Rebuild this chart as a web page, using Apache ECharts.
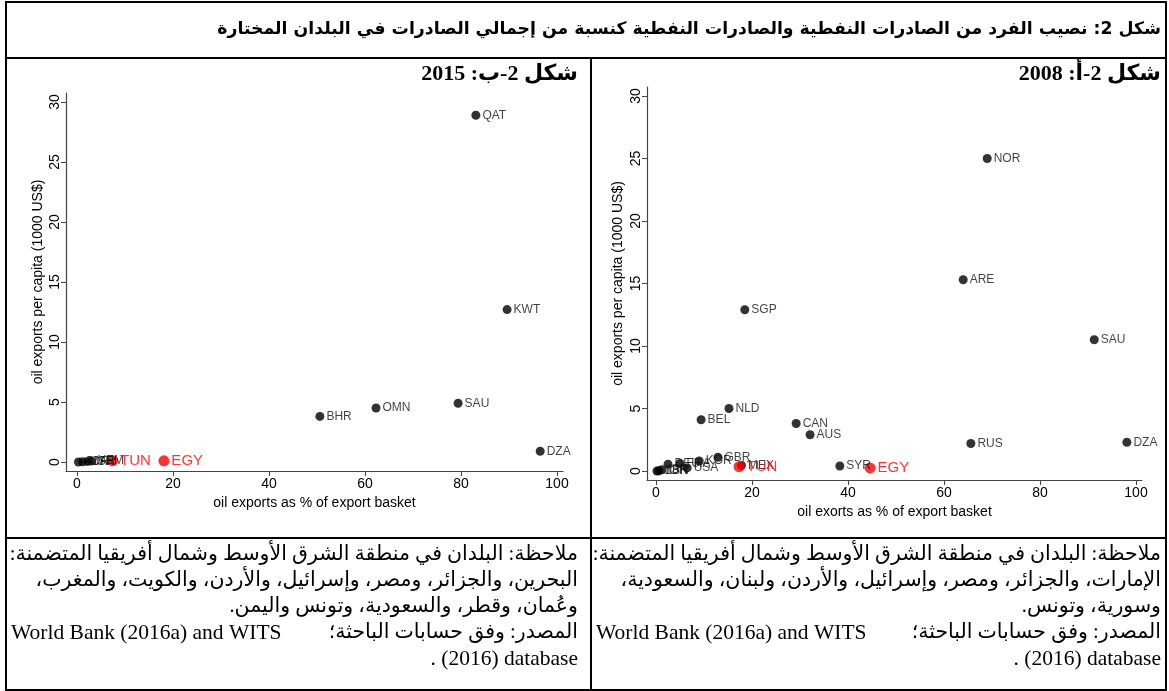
<!DOCTYPE html>
<html>
<head>
<meta charset="utf-8">
<script src="https://cdn.jsdelivr.net/npm/echarts@6/dist/echarts.min.js"></script>
<style>
  html, body { margin: 0; padding: 0; background: #fff; }
  #chart { width: 1169px; height: 691px; }
</style>
</head>
<body>
<div id="chart"></div>
<script>
// 2015 panel (left)
const names2015 = ['QAT', 'KWT', 'SAU', 'OMN', 'BHR', 'DZA', 'JOR', 'MAR', 'ISR', 'YEM'];
const share2015 = [83.1, 89.6, 79.4, 62.3, 50.6, 96.5, 0.3, 1.2, 2.2, 3.0];
const perCap2015 = [28.9, 12.7, 4.9, 4.5, 3.8, 0.9, 0.0, 0.02, 0.05, 0.08];
const focusNames2015 = ['TUN', 'EGY'];
const focusShare2015 = [7.4, 18.1];
const focusPerCap2015 = [0.1, 0.1];

// 2008 panel (right)
const names2008 = ['NOR', 'ARE', 'SGP', 'SAU', 'NLD', 'BEL', 'CAN', 'AUS', 'RUS', 'DZA', 'SYR',
  'MEX', 'GBR', 'KOR', 'USA', 'FRA', 'DEU', 'ISR', 'LBN', 'JOR'];
const share2008 = [69.0, 64.0, 18.5, 91.3, 15.2, 9.4, 29.2, 32.1, 65.6, 98.1, 38.3,
  17.8, 12.9, 9.0, 6.5, 5.0, 2.5, 1.2, 0.6, 0.2];
const perCap2008 = [25.0, 15.3, 12.9, 10.5, 5.0, 4.1, 3.8, 2.9, 2.2, 2.3, 0.4,
  0.45, 1.1, 0.8, 0.25, 0.6, 0.55, 0.1, 0.02, 0.0];
const focusNames2008 = ['TUN', 'EGY'];
const focusShare2008 = [17.3, 44.6];
const focusPerCap2008 = [0.35, 0.25];

const xTicks = [0, 20, 40, 60, 80, 100];
const yTicks = [0, 5, 10, 15, 20, 25, 30];

const titleText = 'شكل 2: نصيب الفرد من الصادرات النفطية والصادرات النفطية كنسبة من إجمالي الصادرات في البلدان المختارة';
const sub2008 = 'شكل 2-أ: 2008';
const sub2015 = 'شكل 2-ب: 2015';
const notes2008 = [
  'ملاحظة: البلدان في منطقة الشرق الأوسط وشمال أفريقيا المتضمنة:',
  'الإمارات، والجزائر، ومصر، وإسرائيل، والأردن، ولبنان، والسعودية،',
  'وسورية، وتونس.'
];
const notes2015 = [
  'ملاحظة: البلدان في منطقة الشرق الأوسط وشمال أفريقيا المتضمنة:',
  'البحرين، والجزائر، ومصر، وإسرائيل، والأردن، والكويت، والمغرب،',
  'وعُمان، وقطر، والسعودية، وتونس واليمن.'
];
const sourceArabic = 'المصدر: وفق حسابات الباحثة؛';
const sourceLatin = 'World Bank (2016a) and WITS';
const lastNoteLine = '. (2016) database';

const rtl = (s) => '\u202B' + s + '\u202C';
const toPoints = (names, xs, ys) => names.map((n, i) => ({ name: n, value: [xs[i], ys[i]] }));

const tickFont = { color: '#000', fontSize: 14, fontFamily: 'Liberation Sans, Arial' };

const makeX = (gridIndex, min, max, name, nameGap) => ({
  type: 'value', gridIndex, min, max,
  name, nameLocation: 'middle', nameGap,
  nameTextStyle: { color: '#000', fontSize: 14, fontFamily: 'Liberation Sans, Arial' },
  axisLine: { show: true, onZero: false, lineStyle: { color: '#444', width: 1.2 } },
  axisTick: { show: true, length: 5, customValues: xTicks, lineStyle: { color: '#444' } },
  axisLabel: Object.assign({ customValues: xTicks, margin: 6 }, tickFont),
  splitLine: { show: false }
});

const makeY = (gridIndex, min, max, nameGap) => ({
  type: 'value', gridIndex, min, max,
  name: 'oil exports per capita (1000 US$)', nameLocation: 'middle', nameGap,
  nameTextStyle: { color: '#000', fontSize: 14, fontFamily: 'Liberation Sans, Arial' },
  axisLine: { show: true, onZero: false, lineStyle: { color: '#444', width: 1.2 } },
  axisTick: { show: true, length: 5, customValues: yTicks, lineStyle: { color: '#444' } },
  axisLabel: Object.assign({ customValues: yTicks, rotate: 90, margin: 4 }, tickFont),
  splitLine: { show: false }
});

const blackSeries = (idx, data) => ({
  type: 'scatter', xAxisIndex: idx, yAxisIndex: idx, data,
  symbolSize: 9, itemStyle: { color: '#000' },
  label: { show: true, position: 'right', distance: 2, formatter: '{b}',
    color: '#111', fontSize: 12, fontFamily: 'Liberation Sans, Arial' },
  labelLayout: { hideOverlap: false }
});
const redSeries = (idx, data) => ({
  type: 'scatter', xAxisIndex: idx, yAxisIndex: idx, data,
  symbolSize: 11, itemStyle: { color: '#ff0000' },
  label: { show: true, position: 'right', distance: 2, formatter: '{b}',
    color: '#ff0000', fontSize: 15, fontFamily: 'Liberation Sans, Arial' }
});

const line = (x1, y1, x2, y2) => ({
  type: 'line', shape: { x1, y1, x2, y2 }, style: { stroke: '#000', lineWidth: 2 }, silent: true
});
const text = (x, y, s, font, align) => ({
  type: 'text', x, y, silent: true,
  style: { text: s, font, fill: '#000', textAlign: align || 'right', textVerticalAlign: 'middle' }
});

const noteFont = '20.5px "Liberation Serif", "DejaVu Sans"';
const latinFont = '21.5px "Liberation Serif"';
const noteYs = [555, 581, 607, 633, 659];
const graphics = [
  line(6, 2, 1166, 2), line(6, 58, 1166, 58), line(6, 538, 1166, 538), line(6, 690, 1166, 690),
  line(6, 1, 6, 691), line(1166, 1, 1166, 691), line(591, 58, 591, 691),
  text(1161, 30, rtl(titleText), 'bold 17.3px "DejaVu Sans"'),
  text(1161, 74, rtl(sub2008), 'bold 22px "Liberation Serif", "DejaVu Sans"'),
  text(578, 74, rtl(sub2015), 'bold 22px "Liberation Serif", "DejaVu Sans"')
];
notes2008.forEach((s, i) => graphics.push(text(1161, noteYs[i], rtl(s), noteFont)));
notes2015.forEach((s, i) => graphics.push(text(578, noteYs[i], rtl(s), noteFont)));
[[596, 1161], [11, 578]].forEach(([l, r]) => {
  graphics.push(text(r, noteYs[3], rtl(sourceArabic), noteFont));
  graphics.push(text(l, noteYs[3], sourceLatin, latinFont, 'left'));
  graphics.push(text(r, noteYs[4], lastNoteLine, latinFont));
});

const chart = echarts.init(document.getElementById('chart'));
chart.setOption({
  backgroundColor: '#fff',
  animation: false,
  grid: [
    { left: 66, top: 93, width: 497, height: 378 },
    { left: 647, top: 87, width: 495, height: 393 }
  ],
  xAxis: [
    makeX(0, -2.29, 101.25, 'oil exports as % of export basket', 25),
    makeX(1, -1.875, 101.25, 'oil exorts as % of export basket', 25)
  ],
  yAxis: [
    makeY(0, -0.75, 30.75, 21),
    makeY(1, -0.72, 30.72, 22)
  ],
  series: [
    blackSeries(0, toPoints(names2015, share2015, perCap2015)),
    redSeries(0, toPoints(focusNames2015, focusShare2015, focusPerCap2015)),
    blackSeries(1, toPoints(names2008, share2008, perCap2008)),
    redSeries(1, toPoints(focusNames2008, focusShare2008, focusPerCap2008))
  ],
  graphic: graphics
});
</script>
</body>
</html>
